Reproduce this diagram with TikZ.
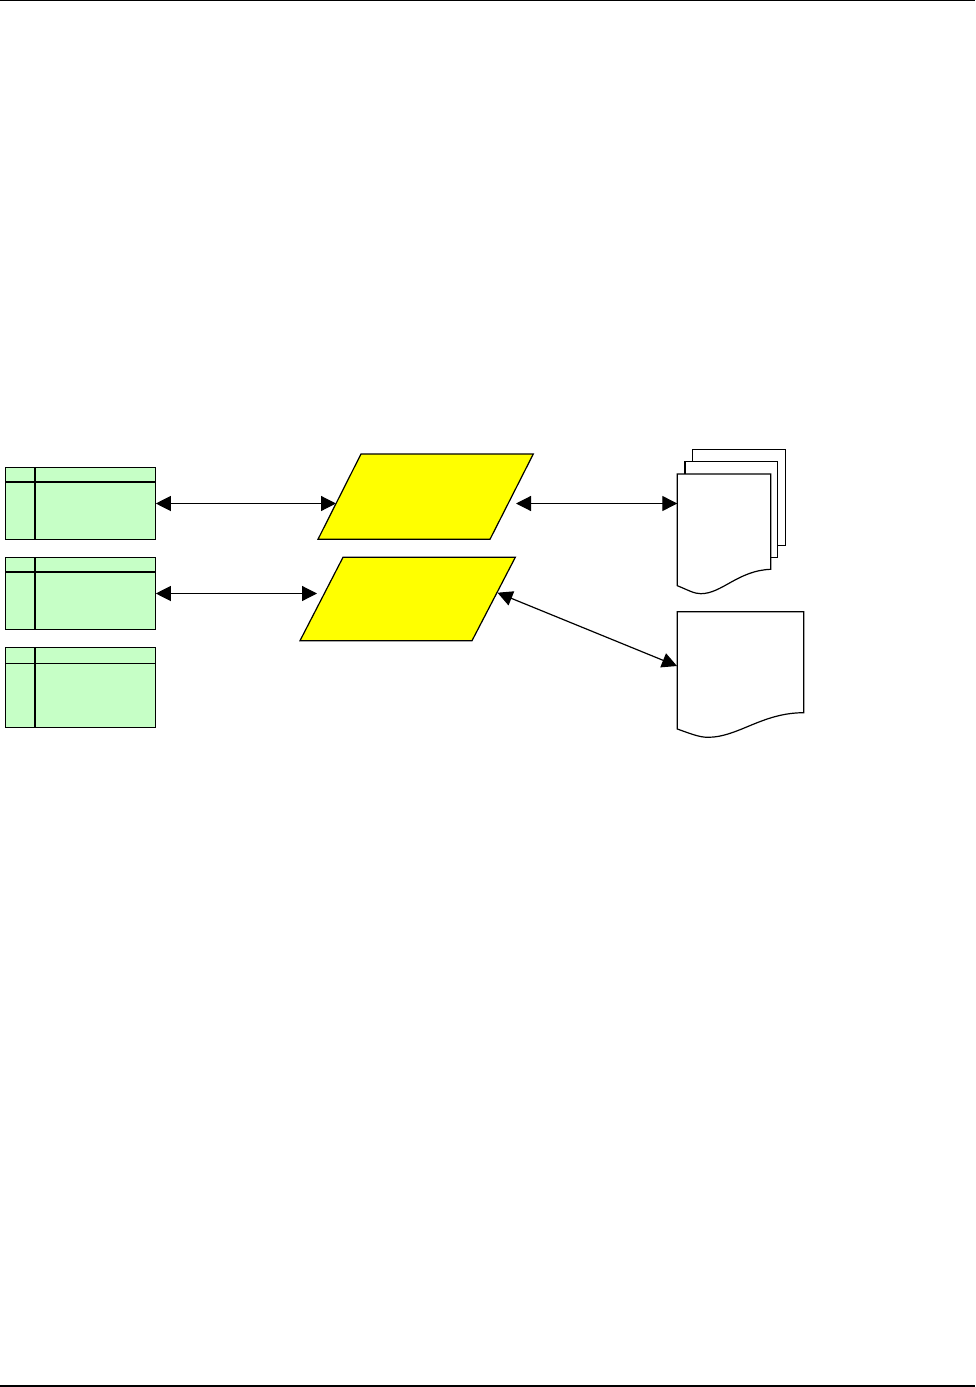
\documentclass[tikz,border=0pt]{standalone}
\usetikzlibrary{arrows.meta}
\definecolor{tablegreen}{RGB}{198,255,198}
\definecolor{parayellow}{RGB}{255,255,0}
\tikzset{every picture/.style={line width=0.9pt}}
\tikzset{
	tablebox/.style={draw,fill=tablegreen,anchor=north west,inner sep=0pt,outer sep=0pt,minimum width=112.5pt},
	parabox/.style={draw,fill=parayellow},
	docbox/.style={draw,fill=white},
	twoway/.style={{Triangle[length=11.25pt,width=11.25pt]}-{Triangle[length=11.25pt,width=11.25pt]}},
	pagerule/.style={line width=1.2pt},
	tablerule/.style={line width=1.6pt}
}
\begin{document}
\begin{tikzpicture}[x=0.75pt,y=0.75pt,yscale=-1,xscale=1]
	\useasboundingbox (0,0) rectangle (975,1387);
	
	%Page rules
	\draw [pagerule] (0,0.6) -- (975,0.6) ;
	\draw [pagerule] (0,1386) -- (975,1386) ;
	
	%Tables
	\node (tableA) [tablebox,minimum height=54pt] at (5.3,467.3) {};
	\draw [tablerule] (5.3,482) -- (155.3,482) ;
	\draw [tablerule] (35,467.3) -- (35,539.3) ;
	\node (tableB) [tablebox,minimum height=54pt] at (5.3,557.3) {};
	\draw [tablerule] (5.3,572) -- (155.3,572) ;
	\draw [tablerule] (35,557.3) -- (35,629.3) ;
	\node (tableC) [tablebox,minimum height=60pt] at (5.3,647.3) {};
	\draw (5.3,663.3) -- (155.3,663.3) ;
	\draw [tablerule] (35,647.3) -- (35,727.3) ;
	
	%Shape: Parallelograms
	\draw [parabox] (318,539.3) -- (361,454) -- (533.3,454) -- (490,539.3) -- cycle ;
	\draw [parabox] (300,640.7) -- (343,557.3) -- (515.3,557.3) -- (472,640.7) -- cycle ;
	
	%Shape: Document stack
	\draw [docbox] (692.3,449.3) -- (785.3,449.3) -- (785.3,545.7) -- (692.3,545.7) -- cycle ;
	\draw [docbox] (685,461.7) -- (777.7,461.7) -- (777.7,557.7) -- (685,557.7) -- cycle ;
	\draw [docbox] (677.3,474) -- (770.7,474) -- (770.7,569.3) .. controls (738,570.5) and (722,593.7) .. (700.7,593.7) .. controls (694,593.7) and (688,590) .. (677.3,585.7) -- cycle ;
	%Shape: Single document
	\draw [docbox] (677.3,611.7) -- (803.7,611.7) -- (803.7,712.7) .. controls (762,712.7) and (738,737.3) .. (708,737.3) .. controls (699,737.3) and (690,733.5) .. (677.3,729) -- cycle ;
	
	%Free ends
	\coordinate (paraAleft) at (336,503.5);
	\coordinate (paraAright) at (516,503.5);
	\coordinate (paraBleft) at (317,593.5);
	\coordinate (paraBright) at (497.5,592.7);
	\coordinate (stackdoc) at (677.3,503.5);
	\coordinate (singledoc) at (677,666);
	\coordinate (tableAend) at (155.8,503.5);
	\coordinate (tableBend) at (155.8,593.5);
	
	%Straight Lines
	\draw [twoway] (tableAend) -- (paraAleft) ;
	\draw [twoway] (tableBend) -- (paraBleft) ;
	\draw [twoway] (paraAright) -- (stackdoc) ;
	\draw [twoway] (paraBright) -- (singledoc) ;
\end{tikzpicture}
\end{document}
